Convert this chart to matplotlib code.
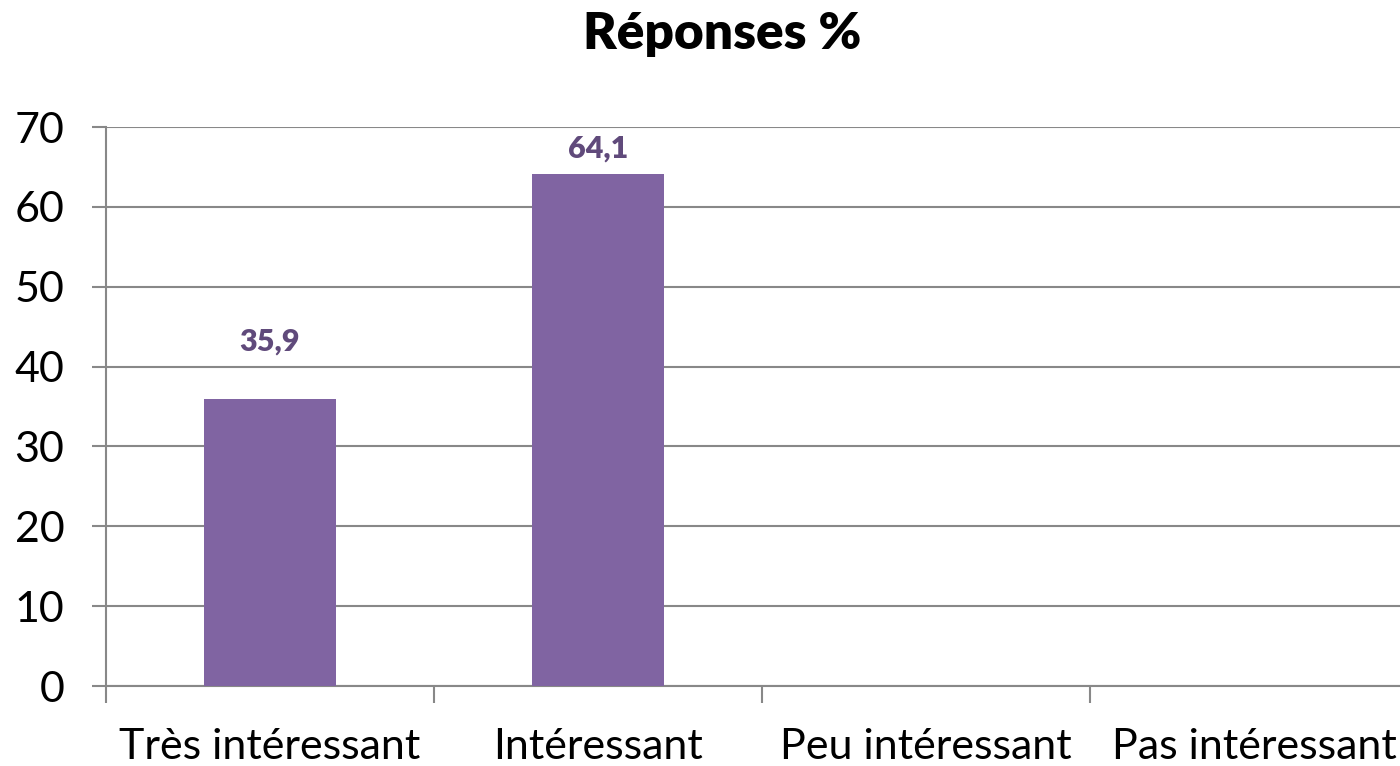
import matplotlib.pyplot as plt
import numpy as np

categories = ["Très intéressant", "Intéressant", "Peu intéressant", "Pas intéressant"]
values = [35.9, 64.1, np.nan, np.nan]
labels = ["35,9", "64,1", "", ""]

plt.rcParams['font.family'] = ['Lato', 'DejaVu Sans']

fig = plt.figure(figsize=(14, 7.66), dpi=100)
ax = fig.add_axes([0.0757, 0.1044, 0.9372, 0.7298])

x = np.arange(len(categories))
ax.bar(x, np.nan_to_num(values), width=0.4, color='#8064a2', zorder=3)

for xi, v, lab in zip(x, values, labels):
    if lab:
        # label sits above the bar, but stays inside the plot area
        ax.text(xi, min(v + 5.5, 65.5), lab, ha='center', va='bottom', fontsize=22,
                fontweight='heavy', color='#604a7b')

ax.set_xlim(-0.5, len(categories) - 0.5)
ax.set_ylim(0, 70)
ax.set_yticks(range(0, 71, 10))
ax.set_xticks(x)
ax.set_xticklabels(categories, fontsize=31)
ax.set_xticks(np.arange(len(categories)) - 0.5, minor=True)
ax.tick_params(axis='x', which='major', length=0, pad=30)
ax.tick_params(axis='x', which='minor', length=12, color='#888888', width=1.5)
ax.tick_params(axis='y', length=10, color='#888888', width=1.5, labelsize=31, pad=20)

ax.grid(axis='y', color='#888888', linewidth=1.5, zorder=0)
for s in ['top', 'right']:
    ax.spines[s].set_visible(False)
for s in ['left', 'bottom']:
    ax.spines[s].set_color('#888888')
    ax.spines[s].set_linewidth(1.5)

fig.text(0.5157, 0.955, "Réponses %", ha='center', va='center', fontsize=37, fontweight='heavy')

fig.savefig('out.png', dpi=100)
